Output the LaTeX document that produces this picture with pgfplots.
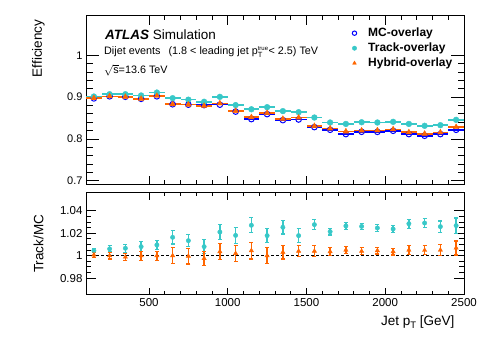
\documentclass[border=0pt]{standalone}
\usepackage{pgfplots}
\pgfplotsset{compat=1.18}
\usepackage{pgfplotstable}
\usepackage{fontspec}
\setmainfont{Liberation Sans}
\definecolor{mcblue}{RGB}{0,0,255}
\definecolor{trcyan}{RGB}{56,200,200}
\definecolor{hyorange}{RGB}{255,102,0}

\pgfplotstableread{
x mc tr hy
150 0.897 0.9015 0.8975
250 0.902 0.907 0.902
350 0.901 0.907 0.9005
450 0.896 0.904 0.896
550 0.902 0.911 0.903
650 0.883 0.8976 0.883
750 0.882 0.894 0.882
850 0.881 0.889 0.879
950 0.882 0.9007 0.885
1050 0.8655 0.881 0.867
1150 0.8475 0.871 0.852
1250 0.8594 0.876 0.862
1350 0.845 0.8666 0.848
1450 0.8466 0.864 0.851
1550 0.8284 0.8513 0.8308
1650 0.822 0.8394 0.825
1750 0.8117 0.836 0.818
1850 0.8172 0.840 0.820
1950 0.817 0.8394 0.8205
2050 0.8196 0.841 0.823
2150 0.8117 0.836 0.816
2250 0.8077 0.8315 0.8125
2350 0.8117 0.833 0.8157
2450 0.822 0.8458 0.8284
}\efftable

\pgfplotstableread{
x tr trerr hy hyerr
150 1.0045 0.002 1.0006 0.002
250 1.006 0.0027 1.000 0.003
350 1.0066 0.0036 0.9988 0.003
450 1.008 0.0045 1.000 0.004
550 1.0095 0.004 1.000 0.004
650 1.0163 0.006 1.000 0.007
750 1.0133 0.0055 0.9996 0.007
850 1.008 0.006 0.9975 0.006
950 1.021 0.0067 1.0036 0.007
1050 1.018 0.007 1.002 0.007
1150 1.027 0.0067 1.0045 0.0075
1250 1.0178 0.006 1.000 0.007
1350 1.0252 0.006 1.003 0.006
1450 1.0178 0.006 1.004 0.005
1550 1.0276 0.0047 1.004 0.0047
1650 1.0213 0.003 1.0036 0.0035
1750 1.0264 0.003 1.005 0.003
1850 1.026 0.0027 1.004 0.003
1950 1.0246 0.003 1.0045 0.003
2050 1.0237 0.003 1.0036 0.003
2150 1.0284 0.004 1.005 0.004
2250 1.029 0.004 1.0048 0.004
2350 1.0258 0.005 1.005 0.0047
2450 1.0267 0.0067 1.0068 0.0063
}\ratiotable

\pgfplotsset{
  common/.style={
    scale only axis, width=378pt,
    xmin=100, xmax=2500,
    xtick={500,1000,1500,2000,2500}, minor x tick num=4,
    tick align=inside, xtick pos=both, ytick pos=both,
    axis line style={line width=1pt},
    every tick/.style={black, line width=0.8pt},
    /pgf/number format/assume math mode=true,
    /pgf/number format/1000 sep={},
  }
}

\begin{document}
\begin{tikzpicture}
\useasboundingbox (0pt,0pt) rectangle (498pt,340pt);

\begin{axis}[common,
  at={(86pt,155pt)}, anchor=south west, height=169pt,
  ymin=0.69, ymax=1.094,
  ytick={0.7,0.8,0.9,1}, minor y tick num=4,
  xticklabels={},
  yticklabel style={font=\fontsize{11}{13}\selectfont},
  major tick length=9pt, minor tick length=4.5pt,
  every major y tick/.append style={/pgfplots/major tick length=13pt},
  every minor y tick/.append style={/pgfplots/minor tick length=6.5pt},
  ylabel={Efficiency},
  every axis y label/.style={at={(axis description cs:-0.1257,1)}, rotate=90, anchor=east, font=\fontsize{13.5}{16}\selectfont},
  legend cell align=left,
  legend image code/.code={\draw[#1,mark size=2.2pt] plot coordinates {(0pt,0pt)};},
  legend style={at={(axis description cs:0.696,0.9556)}, anchor=north west,
    draw=none, fill=none, font=\bfseries\fontsize{12}{14}\selectfont,
    row sep=0pt, nodes={inner sep=1.5pt, text height=9pt, text depth=3pt},
    /tikz/every odd column/.append style={column sep=10pt}},
]
\addplot[mcblue, only marks, mark=o, mark size=2.8pt, mark options={line width=1pt},
  error bars/x dir=both, error bars/x fixed=50, error bars/error mark=none,
  error bars/error bar style={line width=1.6pt}]
  table[x=x, y=mc]{\efftable};
\addlegendentry{MC-overlay}
\addplot[trcyan, only marks, mark=*, mark size=2.9pt,
  error bars/x dir=both, error bars/x fixed=50, error bars/error mark=none,
  error bars/error bar style={line width=1.6pt}]
  table[x=x, y=tr]{\efftable};
\addlegendentry{Track-overlay}
\addplot[hyorange, only marks, mark=triangle*, mark size=3.2pt,
  error bars/x dir=both, error bars/x fixed=50, error bars/error mark=none,
  error bars/error bar style={line width=1.6pt}]
  table[x=x, y=hy]{\efftable};
\addlegendentry{Hybrid-overlay}
\end{axis}

\begin{axis}[common,
  at={(86pt,45pt)}, anchor=south west, height=102pt,
  ymin=0.965, ymax=1.0557,
  ytick={0.98,1,1.02,1.04}, minor y tick num=3,
  ticklabel style={font=\fontsize{11.5}{13}\selectfont},
  major tick length=7pt, minor tick length=3.5pt,
  every major y tick/.append style={/pgfplots/major tick length=10pt},
  every minor y tick/.append style={/pgfplots/minor tick length=5pt},
  ylabel={Track/MC},
  every axis y label/.style={at={(axis description cs:-0.1257,0.5)}, rotate=90, anchor=center, font=\fontsize{13.5}{16}\selectfont},
  xlabel={Jet p\raisebox{-0.5ex}{\fontsize{9.5}{9.5}\selectfont T} [GeV]},
  every axis x label/.style={at={(axis description cs:0.984,-0.265)}, anchor=east, font=\fontsize{13.5}{16}\selectfont},
]
\addplot[black, dashed, line width=1.2pt, dash pattern=on 3pt off 2pt] coordinates {(100,1) (2500,1)};
\addplot[trcyan, only marks, mark=*, mark size=2.2pt,
  error bars/y dir=both, error bars/y explicit,
  error bars/error mark options={trcyan, rotate=90, mark size=2pt, line width=1.2pt},
  error bars/error bar style={trcyan, line width=1.4pt}]
  table[x=x, y=tr, y error=trerr]{\ratiotable};
\addplot[hyorange, only marks, mark=triangle*, mark size=2.5pt,
  error bars/y dir=both, error bars/y explicit,
  error bars/error mark options={hyorange, rotate=90, mark size=2pt, line width=1.2pt},
  error bars/error bar style={hyorange, line width=1.4pt}]
  table[x=x, y=hy, y error=hyerr]{\ratiotable};
\end{axis}

\node[anchor=west, font=\fontsize{13.5}{16}\selectfont, inner sep=0pt] at (105pt,305pt) {\textbf{\textit{ATLAS}} Simulation};
\node[anchor=west, font=\fontsize{10.8}{13}\selectfont, inner sep=0pt] at (104pt,288pt) {Dijet events\hspace{8pt}(1.8 < leading jet p$^{\mbox{\fontsize{6}{6}\selectfont true}}_{\mbox{\fontsize{7.5}{7.5}\selectfont T}}$< 2.5) TeV};
\node[anchor=west, font=\fontsize{10.8}{13}\selectfont, inner sep=0pt] at (104pt,270pt) {$\sqrt{\mbox{s}}$=13.6 TeV};
\end{tikzpicture}
\end{document}
